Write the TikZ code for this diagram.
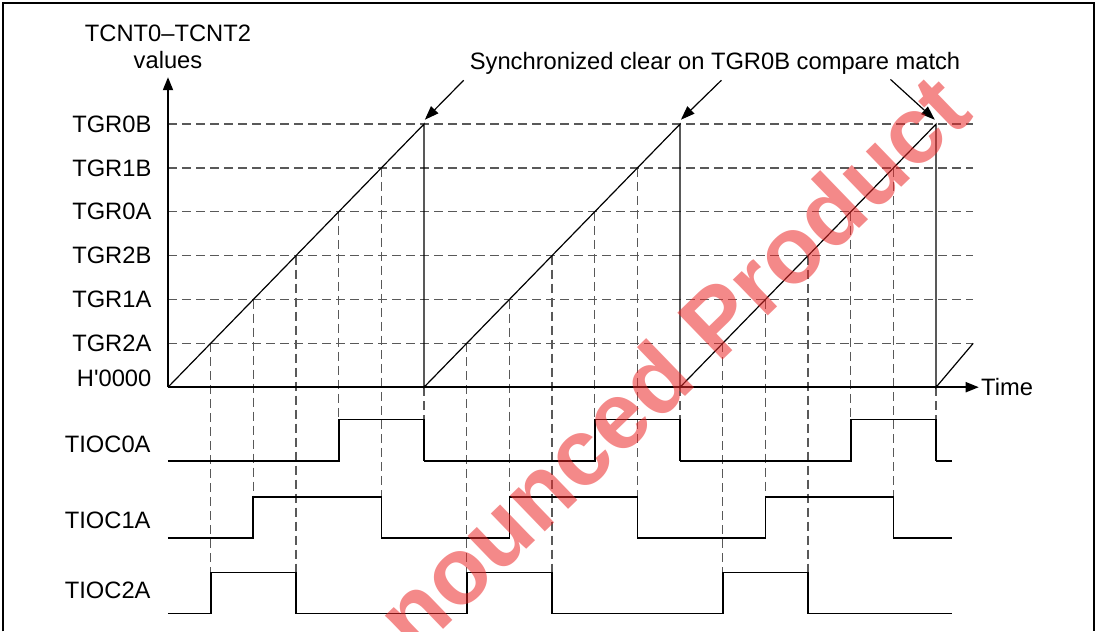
\documentclass[tikz,border=0pt]{standalone}
\usepackage{fontspec}
\setmainfont{Liberation Sans}
\usetikzlibrary{arrows.meta}
\definecolor{wmred}{RGB}{235,40,40}

\begin{document}
\begin{tikzpicture}[x=21.33bp, y=21.92bp, font=\fontsize{11.9}{13.4}\selectfont,
    lvl/.style={anchor=east, inner sep=0pt},
    sig/.style={line width=0.85bp},
    guide/.style={dash pattern=on 4.5bp off 2.5bp, line width=0.6bp, black!65},
    ramp/.style={line width=0.6bp},
    axis/.style={line width=0.9bp, -{Triangle[length=6.5bp,width=5bp]}},
    pointer/.style={line width=0.6bp, -{Triangle[length=7bp,width=5bp]}}]
  \useasboundingbox (-3.937,-5.567) rectangle (21.795,8.830);
  \draw[line width=1bp] (-3.867,-5.567) -- (-3.867,8.761) -- (21.70,8.761) -- (21.70,-5.567);

  % compare levels
  \foreach \lab [count=\k] in {TGR2A,TGR1A,TGR2B,TGR0A,TGR1B,TGR0B} {
    \draw[guide] (0,\k) -- (18.87,\k);
    \node[lvl] (l\k) at (-0.38,\k) {\lab};
  }
  \node[lvl] (l0) at (-0.38,0.2) {H\textquotesingle 0000};

  % drops to the outputs
  \foreach \p in {0,6,12} {
    \draw[guide] (\p+1,1) -- (\p+1,-4.228);
    \draw[guide] (\p+2,2) -- (\p+2,-2.503);
    \draw[guide] (\p+3,3) -- (\p+3,-4.228);
    \draw[guide] (\p+4,4) -- (\p+4,-0.737);
    \draw[guide] (\p+5,5) -- (\p+5,-2.503);
    \draw[guide] (\p+6,0) -- (\p+6,-0.737);
  }

  % axes
  \draw[axis] (0,0) -- (0,7.07);
  \draw[axis] (0,0) -- (19,0);
  \node[anchor=west, inner sep=1bp] (time) at (19,0) {Time};
  \node[anchor=north, inner sep=0pt, align=center] (yl) at (0,8.26) {TCNT0--TCNT2\\values};

  % counter
  \draw[ramp] (0,0) -- (6,6) -- (6,0) -- (12,6) -- (12,0) -- (18,6) -- (18,0) -- (18.87,1);

  % outputs
  \foreach \p in {0,6,12} {
    \draw[sig] (\p,-1.681) -- (\p+4,-1.681) -- (\p+4,-0.737) -- (\p+6,-0.737) -- (\p+6,-1.681);
    \draw[sig] (\p,-3.445) -- (\p+2,-3.445) -- (\p+2,-2.503) -- (\p+5,-2.503) -- (\p+5,-3.445) -- (\p+6,-3.445);
    \draw[sig] (\p,-5.163) -- (\p+1,-5.163) -- (\p+1,-4.228) -- (\p+3,-4.228) -- (\p+3,-5.163) -- (\p+6,-5.163);
  }
  \draw[sig] (18,-1.681) -- (18.37,-1.681);
  \draw[sig] (18,-3.445) -- (18.37,-3.445);
  \draw[sig] (18,-5.163) -- (18.37,-5.163);
  \node[lvl] (o0) at (-0.40,-1.30) {TIOC0A};
  \node[lvl] (o1) at (-0.40,-3.03) {TIOC1A};
  \node[lvl] (o2) at (-0.40,-4.64) {TIOC2A};

  % synchronized clear
  \node[anchor=base] (sync) at (12.82,7.25) {Synchronized clear on TGR0B compare match};
  \coordinate (s1) at (6.93,7.0);
  \coordinate (s2) at (12.97,7.0);
  \coordinate (s3) at (16.93,7.02);
  \coordinate (pk1) at (6.02,6.1);
  \coordinate (pk2) at (12.02,6.1);
  \coordinate (pk3) at (17.97,6.1);
  \draw[pointer] (s1) -- (pk1);
  \draw[pointer] (s2) -- (pk2);
  \draw[pointer] (s3) -- (pk3);

  % watermark
  \node[rotate=44, text=wmred, text opacity=0.55, inner sep=0pt,
        font=\fontsize{47.5}{50}\selectfont\bfseries] (wm) at (11.81,0.57) {nounced Product};
\end{tikzpicture}
\end{document}
